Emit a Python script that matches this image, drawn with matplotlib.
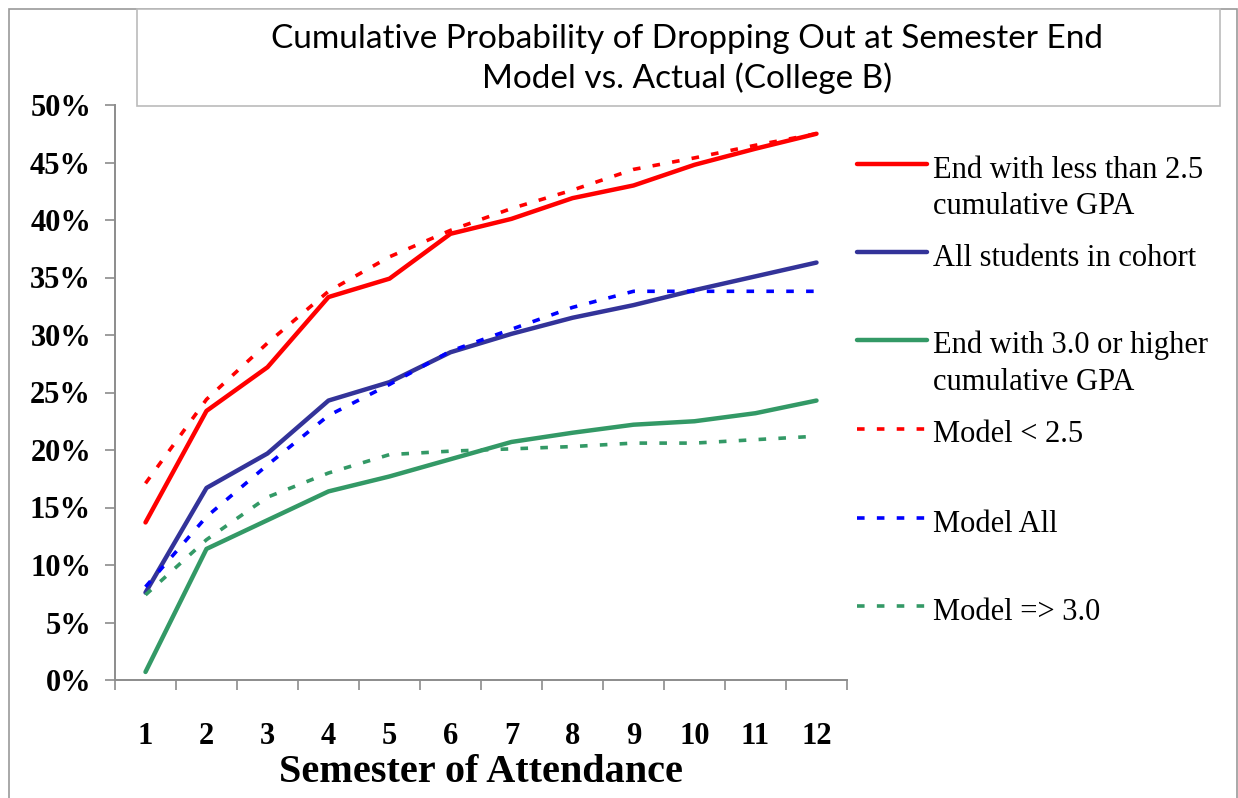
import matplotlib
matplotlib.use("Agg")
from matplotlib import pyplot as plt
from matplotlib.lines import Line2D
from matplotlib.patches import Rectangle
import numpy as np

W, H = 1238, 798

semesters = list(range(1, 13))
low_gpa_actual = [13.7, 23.4, 27.2, 33.3, 34.9, 38.8, 40.1, 41.9, 43.0, 44.8, 46.2, 47.5]
all_actual = [7.6, 16.7, 19.7, 24.3, 25.9, 28.5, 30.1, 31.5, 32.6, 33.9, 35.1, 36.3]
high_gpa_actual = [0.7, 11.4, 13.9, 16.4, 17.7, 19.2, 20.7, 21.5, 22.2, 22.5, 23.2, 24.3]
low_gpa_model = [17.1, 24.4, 29.3, 33.8, 36.8, 39.1, 41.0, 42.6, 44.4, 45.4, 46.5, 47.5]
all_model = [8.1, 14.2, 18.7, 23.0, 25.7, 28.6, 30.5, 32.4, 33.8, 33.8, 33.8, 33.8]
high_gpa_model = [7.4, 12.2, 15.9, 18.0, 19.6, 19.9, 20.1, 20.3, 20.6, 20.6, 20.9, 21.2]

yticks = list(range(0, 55, 5))
ytick_labels = [f"{v}%" for v in yticks]

title = "Cumulative Probability of Dropping Out at Semester End\nModel vs. Actual (College B)"
xlabel = "Semester of Attendance"

RED, NAVY, BLUE, GREEN = "#FF0000", "#333399", "#0000FF", "#339966"
GRAY = "#8c8c8c"

series = [
    (low_gpa_actual, RED, "solid", ["End with less than 2.5", "cumulative GPA"]),
    (all_actual, NAVY, "solid", ["All students in cohort"]),
    (high_gpa_actual, GREEN, "solid", ["End with 3.0 or higher", "cumulative GPA"]),
    (low_gpa_model, RED, "dash", ["Model < 2.5"]),
    (all_model, BLUE, "dash", ["Model All"]),
    (high_gpa_model, GREEN, "dash", ["Model => 3.0"]),
]

serif = ["Liberation Serif", "DejaVu Serif"]


def fx(px):
    return px / W


def fy(py):
    return 1 - py / H


def style(kind):
    if kind == "solid":
        return dict(lw=3.2, solid_capstyle="round", solid_joinstyle="round")
    return dict(lw=2.6, dashes=(2.1, 3.4), dash_capstyle="butt")


fig = plt.figure(figsize=(W / 100, H / 100), dpi=100)
ax = fig.add_axes([fx(115), fy(680), fx(847) - fx(115), fy(105) - fy(680)])

for vals, color, kind, _ in series:
    ax.plot(semesters, vals, color=color, **style(kind))

ax.set_xlim(0.5, 12.5)
ax.set_ylim(0, 50)
ax.set_yticks(yticks)
ax.set_yticklabels(ytick_labels, fontfamily=serif, fontweight="bold", fontsize=22)
ax.set_xticks(semesters)
ax.set_xticklabels([str(s) for s in semesters], fontfamily=serif, fontweight="bold", fontsize=22)
ax.set_xticks(np.arange(0.5, 13, 1), minor=True)
ax.tick_params(axis="x", which="major", length=0, pad=30)
ax.tick_params(axis="x", which="minor", length=7.2, width=1.2, color=GRAY, direction="out")
ax.tick_params(axis="y", length=7.2, width=1.2, color=GRAY, direction="out", pad=10)
for side in ["top", "right"]:
    ax.spines[side].set_visible(False)
for side in ["left", "bottom"]:
    ax.spines[side].set_color(GRAY)
    ax.spines[side].set_linewidth(1.4)

fig.text(fx(481), fy(772), xlabel, ha="center", va="center",
         fontfamily=serif, fontweight="bold", fontsize=29)

# outer chart border and title box
fig.add_artist(Rectangle((fx(9), fy(800)), fx(1237) - fx(9), fy(9) - fy(800),
                         transform=fig.transFigure, fill=False, edgecolor="#999999", lw=1.2))
fig.add_artist(Rectangle((fx(137), fy(106)), fx(1220) - fx(137), fy(9) - fy(106),
                         transform=fig.transFigure, facecolor="white", edgecolor="#bbbbbb", lw=1.2))
fig.text(fx(687), fy(59), title, ha="center", va="center", linespacing=1.3,
         fontfamily=["Lato", "Liberation Sans", "DejaVu Sans"], fontweight="normal",
         fontsize=24, color="black")

# legend drawn by hand so the handle lines up with the first text line
handle_y = [164, 252, 340, 429, 518, 606]
for (vals, color, kind, lines), hy in zip(series, handle_y):
    fig.add_artist(Line2D([fx(857), fx(927)], [fy(hy), fy(hy)], color=color,
                          transform=fig.transFigure, **style(kind)))
    for i, line in enumerate(lines):
        fig.text(fx(933), fy(hy + 13.5 + 37 * i), line, ha="left", va="baseline",
                 fontfamily=serif, fontsize=22)

fig.savefig("out.png", dpi=100)
